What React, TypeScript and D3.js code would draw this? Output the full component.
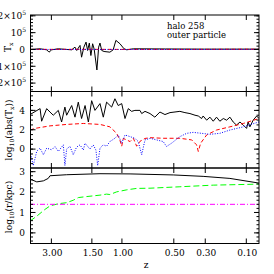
import * as d3 from 'd3';

// redshift ticks on the x axis (axis is linear in cosmic time)
const zTicks = [3, 1.5, 1, 0.5, 0.3, 0.1];

// top panel: T_x  (time in Gyr, value)
const topBlack: [number, number][] = [
	[1.01, 0], [1.53, 4000], [1.87, -2000], [1.99, -16000], [2.13, -2000], [2.47, 4000], [2.9, 0],
	[3.16, -2000], [3.33, 14000], [3.42, -6000], [3.59, 24000], [3.67, -46000], [3.79, 14000],
	[3.9, 44000], [3.98, -6000], [4.07, 38000], [4.15, -36000], [4.24, 34000], [4.32, 2000],
	[4.46, -122000], [4.55, 14000], [4.62, 38000], [4.71, -6000], [4.83, -12000], [5.13, -16000],
	[5.3, -2000], [5.44, 54000], [5.65, 34000], [5.86, 4000], [6.0, -2000], [6.34, 4000],
	[8.0, 3000], [10.0, 2000], [12.82, 2000],
];
const topRed: [number, number][] = [[1.01, 500], [4.0, 800], [6.0, 300], [9.0, 300], [12.82, 1500]];
const topBlue: [number, number][] = [[1.01, 0], [5.0, 50], [9.0, 50], [12.82, 600]];

// middle panel: log10(abs(T_x))
const midBlack: [number, number][] = [
	[1.01, 3.57], [1.53, 4.18], [1.61, 2.88], [1.87, 4.18], [2.04, 3.83], [2.21, 3.5], [2.47, 4.0],
	[2.64, 2.8], [2.81, 4.34], [2.9, 3.5], [3.16, 4.5], [3.33, 3.3], [3.5, 4.85], [3.67, 3.16],
	[3.85, 4.5], [4.02, 2.8], [4.19, 5.0], [4.36, 4.0], [4.62, 4.7], [4.79, 3.3], [4.96, 4.85],
	[5.22, 4.34], [5.39, 5.2], [5.56, 4.5], [5.74, 4.7], [5.91, 3.16], [6.08, 4.18], [6.25, 3.9],
	[6.42, 4.0], [6.68, 4.0], [6.77, 3.67], [6.94, 3.9], [7.2, 3.67], [7.45, 3.3], [7.71, 3.83],
	[7.97, 3.57], [8.23, 3.77], [8.74, 3.9], [9.0, 3.77], [9.26, 3.67], [9.52, 3.5], [9.69, 3.42],
	[9.86, 3.16], [9.94, 3.42], [10.12, 2.99], [10.29, 3.3], [10.46, 2.88], [10.63, 3.3],
	[10.8, 2.88], [10.98, 3.16], [11.15, 2.99], [11.32, 3.3], [11.49, 2.8], [11.66, 2.48],
	[11.84, 2.8], [12.01, 2.48], [12.18, 2.14], [12.26, 2.8], [12.35, 2.3], [12.52, 2.99],
	[12.7, 3.42], [12.82, 3.16],
];
const midRed: [number, number][] = [
	[1.01, 1.97], [1.27, 2.14], [2.04, 2.4], [2.9, 2.55], [3.76, 2.65], [4.62, 2.55], [5.13, 2.3],
	[5.48, 1.63], [5.65, 0.9], [5.74, 0.3], [5.82, 1.1], [6.0, 0.95], [6.17, 0.78], [6.34, 1.12],
	[6.51, 0.3], [6.68, 0.8], [6.94, 1.1], [7.2, 1.18], [7.88, 1.12], [8.74, 1.12], [9.35, 0.95],
	[9.6, 0.44], [9.69, -0.24], [9.81, 0.61], [10.12, 1.46], [10.63, 1.97], [11.32, 2.3],
	[12.01, 2.65], [12.82, 3.16],
];
const midBlue: [number, number][] = [
	[1.01, -0.24], [1.18, -1.7], [1.36, -0.2], [1.53, 0.1], [1.7, -0.58], [1.87, 0.1], [2.13, -0.07],
	[2.3, 0.27], [2.47, -0.24], [2.73, 0.44], [2.81, -1.7], [2.9, 0.0], [3.07, 0.3], [3.24, -0.58],
	[3.41, 0.2], [3.59, 0.44], [3.76, -0.1], [3.85, 0.61], [4.1, 0.0], [4.27, 0.44], [4.41, -0.1],
	[4.5, -1.7], [4.62, 0.1], [4.79, 0.44], [4.96, 0.3], [5.13, 0.78], [5.39, 1.12], [5.56, 1.46],
	[5.74, 0.61], [5.91, 1.46], [6.17, 1.29], [6.42, 1.12], [6.59, 0.78], [6.77, -0.58], [6.94, 0.95],
	[7.2, 1.12], [7.54, 0.95], [7.88, 0.78], [8.05, 0.27], [8.31, 0.61], [8.74, 1.29], [9.09, 1.63],
	[9.43, 1.73], [9.86, 1.63], [10.29, 1.53], [10.8, 1.63], [11.32, 1.97], [12.01, 2.3], [12.82, 2.81],
];

// bottom panel: log10(r/kpc)
const botBlack: [number, number][] = [
	[1.01, 2.64], [1.36, 2.5], [1.7, 2.55], [1.95, 2.67], [2.04, 2.8], [2.9, 2.85], [4.62, 2.9],
	[6.17, 2.89], [8.4, 2.84], [9.94, 2.77], [11.32, 2.67], [12.82, 2.44],
];
const botGreen: [number, number][] = [
	[1.01, 0.58], [1.36, 0.82], [1.78, 1.15], [2.04, 1.32], [2.47, 1.43], [2.9, 1.48], [3.24, 1.6],
	[3.5, 1.73], [3.93, 1.78], [4.62, 1.85], [4.96, 1.9], [5.13, 1.88], [5.48, 2.01], [6.0, 2.11],
	[6.51, 2.18], [7.2, 2.19], [8.74, 2.26], [10.46, 2.34], [12.82, 2.39],
];
const botMagenta: [number, number][] = [[1.01, 1.4], [12.82, 1.4]];

const font = 'DejaVu Serif';

// cosmic time (Gyr) for flat LCDM, H0=70, Om=0.3
function zToTime(z: number) {
	const a = 1 / (1 + z);
	return 11.13 * Math.asinh(1.5275 * Math.pow(a, 1.5));
}

const x0 = 30.5;
const x1 = 259;
const xScale = d3.scaleLinear().domain([1.01, 12.82]).range([30, 259]);

type Panel = {
	top: number;
	bottom: number;
	y: d3.ScaleLinear<number, number>;
	major: number[];
	minor: number[];
	labels: {v: number; text: string; sup?: string}[];
	lines: {data: [number, number][]; color: string; dash?: string}[];
};

const panels: Panel[] = [
	{
		top: 15,
		bottom: 91.5,
		y: d3.scaleLinear().domain([-2.5e5, 2.05e5]).range([91.5, 15]),
		major: [-2e5, -1e5, 0, 1e5, 2e5],
		minor: d3.range(-24e4, 20.5e4, 2e4),
		labels: [
			{v: 2e5, text: '2×10', sup: '5'},
			{v: 1e5, text: '10', sup: '5'},
			{v: 0, text: '0'},
			{v: -1e5, text: '−1×10', sup: '5'},
			{v: -2e5, text: '−2×10', sup: '5'},
		],
		lines: [
			{data: topBlack, color: '#000'},
			{data: topRed, color: '#ff0000', dash: '4 2.5'},
			{data: topBlue, color: '#0000ff', dash: '1 1.5'},
		],
	},
	{
		top: 91.5,
		bottom: 168,
		y: d3.scaleLinear().domain([-1.95, 5.95]).range([168, 91.5]),
		major: [0, 2, 4],
		minor: d3.range(-1.5, 6, 0.5),
		labels: [
			{v: 0, text: '0'},
			{v: 2, text: '2'},
			{v: 4, text: '4'},
		],
		lines: [
			{data: midBlack, color: '#000'},
			{data: midRed, color: '#ff0000', dash: '4 2.5'},
			{data: midBlue, color: '#0000ff', dash: '1 1.5'},
		],
	},
	{
		top: 168,
		bottom: 243.5,
		y: d3.scaleLinear().domain([-0.52, 3.18]).range([243.5, 168]),
		major: [0, 1, 2, 3],
		minor: d3.range(-0.4, 3.2, 0.2),
		labels: [
			{v: 0, text: '0'},
			{v: 1, text: '1'},
			{v: 2, text: '2'},
			{v: 3, text: '3'},
		],
		lines: [
			{data: botBlack, color: '#000'},
			{data: botGreen, color: '#00ff00', dash: '6 3'},
			{data: botMagenta, color: '#ff00ff', dash: '5 2 1 2'},
		],
	},
];

export default function App() {
	const tickTimes = zTicks.map((z) => ({z, x: xScale(zToTime(z))}));
	return (
		<svg
			width={274}
			height={274}
			style={{position: 'absolute', left: 0, top: 0, background: '#fff'}}
			fontFamily={font}
		>
			<defs>
				{panels.map((p, i) => (
					<clipPath id={`clip${i}`} key={i}>
						<rect x={x0} y={p.top} width={x1 - x0} height={p.bottom - p.top} />
					</clipPath>
				))}
			</defs>
			{panels.map((p, i) => {
				const line = d3
					.line<[number, number]>()
					.x((d) => xScale(d[0]))
					.y((d) => p.y(d[1]));
				return (
					<g key={i}>
						<g clipPath={`url(#clip${i})`}>
							{p.lines.map((l, j) => (
								<path
									key={j}
									d={line(l.data) ?? ''}
									fill="none"
									stroke={l.color}
									strokeWidth={1}
									strokeDasharray={l.dash}
								/>
							))}
						</g>
						<rect
							x={x0}
							y={p.top}
							width={x1 - x0}
							height={p.bottom - p.top}
							fill="none"
							stroke="#000"
							strokeWidth={1}
						/>
						{tickTimes.map((t) => (
							<g key={t.z} stroke="#000">
								<line x1={t.x} x2={t.x} y1={p.top} y2={p.top + 5} />
								<line x1={t.x} x2={t.x} y1={p.bottom} y2={p.bottom - 5} />
							</g>
						))}
						{p.minor.map((v) => (
							<g key={'m' + v} stroke="#000">
								<line x1={x0} x2={x0 + 2.5} y1={p.y(v)} y2={p.y(v)} />
								<line x1={x1} x2={x1 - 2.5} y1={p.y(v)} y2={p.y(v)} />
							</g>
						))}
						{p.major.map((v) => (
							<g key={'M' + v} stroke="#000">
								<line x1={x0} x2={x0 + 5} y1={p.y(v)} y2={p.y(v)} />
								<line x1={x1} x2={x1 - 5} y1={p.y(v)} y2={p.y(v)} />
							</g>
						))}
						{p.labels.map((l) => (
							<text
								key={'l' + l.v}
								x={l.sup ? 26 : 25}
								y={p.y(l.v) + 3.3}
								fontSize={9}
								textAnchor="end"
							>
								{l.text}
								{l.sup && (
									<tspan fontSize={6} dy={-4}>
										{l.sup}
									</tspan>
								)}
							</text>
						))}
					</g>
				);
			})}
			{tickTimes.map((t) => (
				<text key={'x' + t.z} x={t.x + 1} y={256} fontSize={9} textAnchor="middle">
					{t.z.toFixed(2)}
				</text>
			))}
			<text x={146} y={268} fontSize={9} textAnchor="middle">
				z
			</text>
			<text x={167} y={28.5} fontSize={8.5}>
				halo 258
			</text>
			<text x={167} y={37.5} fontSize={8.5}>
				outer particle
			</text>
			<text transform="translate(10.5,52) rotate(-90)" fontSize={9}>
				T<tspan fontSize={6} dy={2}>x</tspan>
			</text>
			<text transform="translate(12,130) rotate(-90)" fontSize={9} textAnchor="middle">
				log<tspan fontSize={6} dy={2}>10</tspan>
				<tspan dy={-2}>(abs(T</tspan>
				<tspan fontSize={6} dy={2}>x</tspan>
				<tspan dy={-2}>))</tspan>
			</text>
			<text transform="translate(12,207) rotate(-90)" fontSize={9} textAnchor="middle">
				log<tspan fontSize={6} dy={2}>10</tspan>
				<tspan dy={-2}>(r/kpc)</tspan>
			</text>
		</svg>
	);
}
